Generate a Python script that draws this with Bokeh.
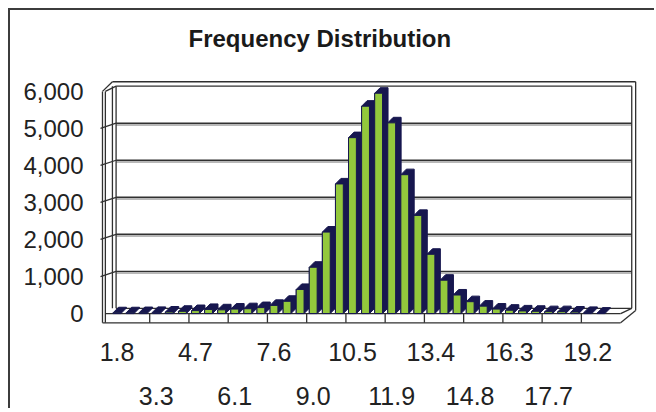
import numpy as np
from bokeh.plotting import figure
from bokeh.models import LinearAxis, FixedTicker, NumeralTickFormatter, Range1d, Title
from bokeh.embed import file_html
from bokeh.resources import INLINE

# ---------------- data ----------------
title_text = "Frequency Distribution"
labels_row1 = ["1.8", "4.7", "7.6", "10.5", "13.4", "16.3", "19.2"]
labels_row2 = ["3.3", "6.1", "9.0", "11.9", "14.8", "17.7"]
frequencies = [20, 20, 25, 30, 40, 60, 80, 110, 100, 120,
               130, 160, 220, 330, 650, 1250, 2200, 3500, 4750, 5600,
               5950, 5150, 3750, 2650, 1600, 900, 500, 320, 200, 120,
               90, 70, 60, 50, 50, 40, 30, 10, 0]
y_ticks = [0, 1000, 2000, 3000, 4000, 5000, 6000]

# ---------------- style ----------------
GREEN = "#93c83c"
NAVY = "#17174f"
FRAME = "#303030"
FONT = "Liberation Sans"
LABEL_STEP = 3          # categories per labelled group
HW = 0.3                # half width of a bar front face
DX, DY = 0.42, 150      # bar depth offset
BX, BY = 0.76, 140      # wall depth offset
FLOOR = -250
YMAX = y_ticks[-1]

n = len(frequencies)
idx = np.arange(n)
vals = np.array(frequencies, dtype=float)

p = figure(width=646, height=400, output_backend="svg", toolbar_location=None, title=None,
           x_range=Range1d(-1.644, 40.02), y_range=Range1d(-323, 6753),
           x_axis_location=None, y_axis_location=None,
           min_border_left=85, min_border_right=16, min_border_top=52, min_border_bottom=85,
           outline_line_color=None, background_fill_color="white", border_fill_color="white")
p.grid.visible = False
p.styles = {"margin-left": "8px", "margin-top": "8px",
            "border-left": "2px solid #3c3c3c", "border-top": "2px solid #3c3c3c"}

p.add_layout(Title(text=title_text, align="left", offset=93, standoff=24,
                   text_font=FONT, text_font_size="24px", text_font_style="bold",
                   text_color="#1a1a1a"), "above")

# ---------------- 3D frame ----------------
xl_f = -0.5 - 0.61          # left wall, front edge
xl_b = xl_f + BX            # left wall, back edge
xr_f = n - 0.5              # floor front, right end
xr_b = n + 0.35             # back wall, right edge

grid_vals = [v for v in y_ticks if 0 < v < YMAX]
p.segment(x0=[xl_b + 0.28] * len(grid_vals), y0=[v + BY - 45 for v in grid_vals],
          x1=[xr_b] * len(grid_vals), y1=[v + BY - 45 for v in grid_vals],
          line_color="#a0a0a0", line_width=1.5)
p.segment(x0=[xl_b + 0.28] * len(grid_vals), y0=[v + BY for v in grid_vals],
          x1=[xr_b] * len(grid_vals), y1=[v + BY for v in grid_vals],
          line_color=FRAME, line_width=1.4)
p.segment(x0=[xl_f - 0.15] * len(grid_vals), y0=grid_vals,
          x1=[xl_b + 0.28] * len(grid_vals), y1=[v + BY for v in grid_vals],
          line_color=FRAME, line_width=1.3)

seg_x0, seg_y0, seg_x1, seg_y1 = [], [], [], []
def seg(a, b, c, d):
    seg_x0.append(a); seg_y0.append(b); seg_x1.append(c); seg_y1.append(d)

seg(xl_f, FLOOR, xl_f, YMAX)
seg(xl_f + 0.22, FLOOR, xl_f + 0.22, YMAX)
seg(xl_b, BY, xl_b, YMAX + BY)
seg(xl_b + 0.28, BY, xl_b + 0.28, YMAX + BY)
seg(xl_f, YMAX, xl_b, YMAX + BY + 120)
seg(xl_f + 0.22, YMAX, xl_b + 0.28, YMAX + BY)
seg(xl_b, YMAX + BY + 120, xr_b + 0.3, YMAX + BY + 120)
seg(xl_b + 0.28, YMAX + BY, xr_b, YMAX + BY)
seg(xr_b, BY, xr_b, YMAX + BY)
seg(xr_b + 0.3, BY - 60, xr_b + 0.3, YMAX + BY + 120)
seg(xl_f, FLOOR, xr_f, FLOOR)
seg(xl_f + 0.22, 0, xr_f, 0)
seg(xl_b + 0.28, BY, xr_b, BY)
seg(xr_f, FLOOR, xr_b + 0.3, BY - 60)
seg(xr_f, 0, xr_b, BY)
p.segment(x0=seg_x0, y0=seg_y0, x1=seg_x1, y1=seg_y1, line_color=FRAME, line_width=1.3)

tick_x = [LABEL_STEP * k - 0.5 for k in range(1, n // LABEL_STEP)]
p.segment(x0=tick_x, y0=[FLOOR] * len(tick_x), x1=tick_x, y1=[0] * len(tick_x),
          line_color=FRAME, line_width=1.3)

# ---------------- 3D bars ----------------
nz = vals > 0
bx = idx[nz]; bv = vals[nz]
xs = [[i - HW, i + HW, i + HW + DX, i + HW + DX, i - HW + DX, i - HW] for i in bx]
ys = [[0, 0, DY, v + DY, v + DY, v] for v in bv]
p.patches(xs, ys, fill_color=NAVY, line_color=NAVY, line_width=1)
p.vbar(x=bx, top=bv, bottom=0, width=2 * HW, fill_color=GREEN, line_color=NAVY, line_width=1)

# ---------------- axes ----------------
yax = LinearAxis(ticker=FixedTicker(ticks=y_ticks), formatter=NumeralTickFormatter(format="0,0"),
                 axis_line_color=None, major_tick_line_color=None, minor_tick_line_color=None,
                 major_tick_out=0, major_tick_in=0, major_label_standoff=12,
                 major_label_text_font=FONT, major_label_text_font_size="24px",
                 major_label_text_color="#222222")
p.add_layout(yax, "left")

pos1 = [2 * LABEL_STEP * k for k in range(len(labels_row1))]
pos2 = [2 * LABEL_STEP * k + LABEL_STEP for k in range(len(labels_row2))]
for pos, labs, standoff in ((pos1, labels_row1, 17), (pos2, labels_row2, 23)):
    ax = LinearAxis(ticker=FixedTicker(ticks=pos),
                    major_label_overrides={int(t): s for t, s in zip(pos, labs)},
                    axis_line_color=None, major_tick_line_color=None, minor_tick_line_color=None,
                    major_tick_out=0, major_tick_in=0, major_label_standoff=standoff,
                    major_label_text_font=FONT, major_label_text_font_size="25px",
                    major_label_text_color="#222222")
    p.add_layout(ax, "below")

open("out.html", "w").write(file_html(p, INLINE))
